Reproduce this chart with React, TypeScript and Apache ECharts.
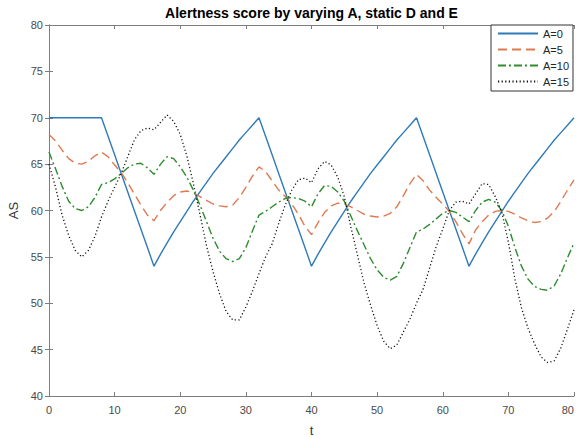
import React, { useEffect, useRef } from "react";
import * as echarts from "echarts";

// Time axis shared by all four runs (t = 0 … 80)
const tValues: number[] = Array.from({ length: 81 }, (_, i) => i);

const seriesNames = ["A=0", "A=5", "A=10", "A=15"];

const alertA0 = [
  70, 70, 70, 70, 70, 70, 70, 70, 70, 68, 66, 64, 62, 60, 58, 56, 54,
  55.3, 56.5, 57.7, 58.8, 59.9, 61.0, 62.0, 63.0, 64.0, 64.9, 65.8, 66.7, 67.6, 68.4, 69.2, 70,
  68, 66, 64, 62, 60, 58, 56, 54,
  55.3, 56.5, 57.7, 58.8, 59.9, 61.0, 62.0, 63.0, 64.0, 64.9, 65.8, 66.7, 67.6, 68.4, 69.2, 70,
  68, 66, 64, 62, 60, 58, 56, 54,
  55.3, 56.5, 57.7, 58.8, 59.9, 61.0, 62.0, 63.0, 64.0, 64.9, 65.8, 66.7, 67.6, 68.4, 69.2, 70,
];

const alertA5 = [
  68.2, 67.5, 66.5, 65.6, 65.1, 65.0, 65.3, 65.9, 66.3, 65.8,
  64.9, 64.1, 63.0, 61.8, 60.6, 59.5, 58.9, 60.0, 60.9, 61.6,
  62.0, 62.1, 61.9, 61.5, 61.1, 60.7, 60.5, 60.4, 60.6, 61.4,
  62.5, 63.7, 64.7, 64.2, 63.2, 62.2, 61.5, 60.7, 59.6, 58.3,
  57.4, 58.7, 59.8, 60.5, 60.8, 60.7, 60.4, 60.0, 59.6, 59.4,
  59.3, 59.4, 59.7, 60.4, 61.6, 62.9, 63.9, 63.2, 62.2, 61.4,
  60.7, 59.9, 58.8, 57.5, 56.4, 57.9, 58.8, 59.5, 59.9, 60.0,
  59.9, 59.6, 59.2, 58.9, 58.7, 58.8, 59.2, 59.9, 61.0, 62.2,
  63.3,
];

const alertA10 = [
  66.3, 64.5, 62.6, 61.0, 60.2, 60.0, 60.4, 61.4, 62.8, 63.0,
  63.4, 64.0, 64.6, 65.0, 65.1, 64.6, 63.9, 65.0, 65.8, 65.6,
  64.7, 63.6, 62.2, 60.6, 58.8, 57.0, 55.6, 54.8, 54.5, 54.8,
  56.0, 57.8, 59.5, 59.9, 60.4, 60.9, 61.3, 61.4, 61.3, 61.0,
  60.4, 61.8, 62.7, 62.6, 62.0, 61.0, 59.4, 57.8, 56.3, 54.8,
  53.6, 52.8, 52.5, 52.9, 54.3, 56.0, 57.7, 58.0, 58.5, 59.1,
  59.7, 60.0, 59.8, 59.3, 58.8, 60.0, 60.9, 61.2, 60.9, 60.0,
  58.3, 56.0, 54.0, 52.6, 51.8, 51.5, 51.4, 51.9, 53.2, 54.9,
  56.5,
];

const alertA15 = [
  65.0, 62.5, 59.5, 57.3, 55.7, 55.0, 55.7, 57.2, 59.3, 61.0,
  62.5, 64.0, 65.8, 67.6, 68.6, 68.9, 68.7, 69.5, 70.3, 69.6,
  68.2, 65.9, 62.9, 59.6, 56.2, 53.4, 51.0, 49.1, 48.2, 48.2,
  49.6, 51.3, 53.2, 55.0, 56.4, 58.6, 60.6, 62.2, 63.3, 63.5,
  63.0, 64.5, 65.3, 64.9, 63.6, 61.5, 58.2, 55.2, 52.2, 49.8,
  47.6, 45.9, 45.1, 45.5, 46.9, 48.3, 50.0, 51.5, 53.8, 56.1,
  58.0, 60.0, 60.9, 61.0, 60.7, 61.8, 62.9, 62.8, 61.5, 59.8,
  56.6, 52.6, 49.5, 47.3, 45.6, 44.2, 43.6, 43.8, 45.2, 47.2,
  49.3,
];

const xTicks = { min: 0, max: 80, interval: 10 };
const yTicks = { min: 40, max: 80, interval: 5 };

const FONT = "'Liberation Sans', Arial, Helvetica, sans-serif";
const AXIS_COLOR = "#7d7d7d";
const LABEL_COLOR = "#4a4a4a";

function pairs(values: number[]): [number, number][] {
  return values.map((v, i) => [tValues[i], v]);
}

export default function App() {
  const ref = useRef<HTMLDivElement>(null);

  useEffect(() => {
    if (!ref.current) return;
    document.body.style.margin = "0";
    const chart = echarts.init(ref.current, undefined, { renderer: "svg" });

    const frameAxis = {
      axisLine: { show: true, lineStyle: { color: AXIS_COLOR, width: 1 } },
      axisTick: { show: true, inside: true, length: 4, lineStyle: { color: AXIS_COLOR } },
      splitLine: { show: false },
    };

    const lineSeries = (
      name: string,
      values: number[],
      color: string,
      type: any,
      width: number
    ) => ({
      name,
      type: "line",
      data: pairs(values),
      symbol: "none",
      showSymbol: false,
      smooth: false,
      lineStyle: { color, width, type },
      itemStyle: { color },
      xAxisIndex: 0,
      yAxisIndex: 0,
    });

    chart.setOption({
      animation: false,
      backgroundColor: "#ffffff",
      textStyle: { fontFamily: FONT },
      grid: {
        left: 49,
        top: 25,
        width: 525,
        height: 371,
        containLabel: false,
        outerBoundsMode: "none",
      },
      graphic: [
        {
          type: "text",
          x: 311.5,
          y: 13,
          style: {
            text: "Alertness score by varying A, static D and E",
            fontFamily: FONT,
            fontSize: 14,
            fontWeight: "bold",
            fill: "#000",
            textAlign: "center",
            textVerticalAlign: "middle",
          },
        },
      ],
      legend: {
        left: 491,
        top: 25,
        orient: "vertical",
        backgroundColor: "#fff",
        borderColor: "#333",
        borderWidth: 1,
        borderRadius: 0,
        padding: [2, 4, 3, 6],
        itemWidth: 40,
        itemHeight: 12,
        itemGap: 3,
        itemTextGap: 3,
        itemStyle: { opacity: 0 },
        textStyle: { fontFamily: FONT, fontSize: 11, color: "#262626", lineHeight: 13 },
        data: seriesNames,
      },
      xAxis: [
        {
          type: "value",
          ...xTicks,
          position: "bottom",
          name: "t",
          nameLocation: "middle",
          nameGap: 27,
          nameTextStyle: { fontFamily: FONT, fontSize: 13, color: "#333", lineHeight: 14 },
          axisLabel: {
            color: LABEL_COLOR,
            fontSize: 11,
            fontFamily: FONT,
            margin: 8,
            alignMaxLabel: "right",
          },
          ...frameAxis,
        },
        {
          type: "value",
          ...xTicks,
          position: "top",
          axisLabel: { show: false },
          ...frameAxis,
        },
      ],
      yAxis: [
        {
          type: "value",
          ...yTicks,
          position: "left",
          name: "AS",
          nameLocation: "middle",
          nameGap: 29,
          nameTextStyle: { fontFamily: FONT, fontSize: 13, color: "#333" },
          axisLabel: { color: LABEL_COLOR, fontSize: 11, fontFamily: FONT, margin: 6 },
          ...frameAxis,
        },
        {
          type: "value",
          ...yTicks,
          position: "right",
          axisLabel: { show: false },
          ...frameAxis,
        },
      ],
      series: [
        lineSeries(seriesNames[0], alertA0, "#2f7ab8", "solid", 1.4),
        lineSeries(seriesNames[1], alertA5, "#dd7a50", [9, 5], 1.4),
        lineSeries(seriesNames[2], alertA10, "#2e8b2e", [8, 3, 2, 3], 1.4),
        lineSeries(seriesNames[3], alertA15, "#111111", [1.2, 2.4], 1.3),
      ],
    });

    return () => chart.dispose();
  }, []);

  return <div ref={ref} style={{ width: 576, height: 437, background: "#fff" }} />;
}
